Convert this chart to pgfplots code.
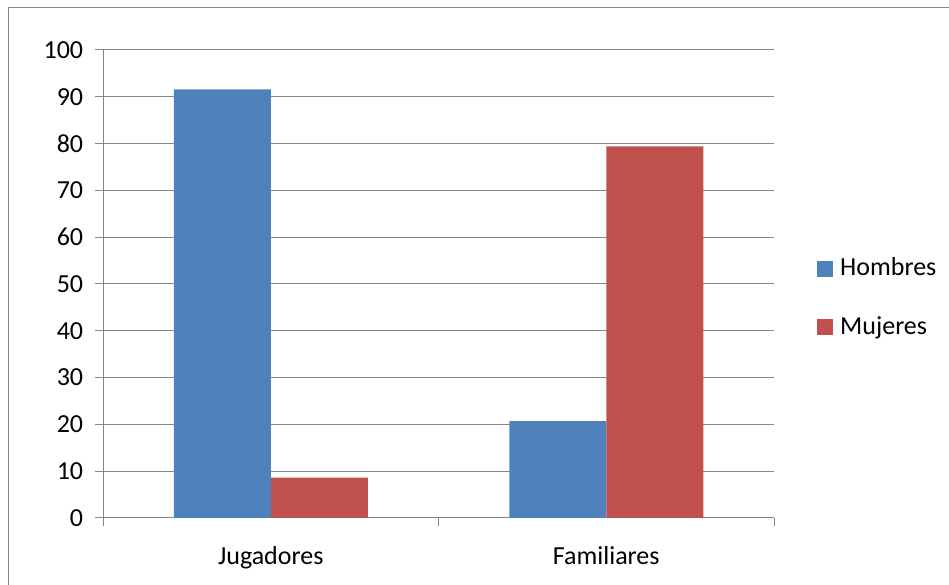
\documentclass[border=0pt]{standalone}
\usepackage{pgfplots}
\pgfplotsset{compat=1.18}
\usepackage{fontspec}
\setmainfont{Carlito}
\definecolor{cblue}{HTML}{4F81BD}
\definecolor{cred}{HTML}{C0504D}
\definecolor{cgrid}{HTML}{868686}
\begin{document}
\fontsize{26}{31}\selectfont
\begin{tikzpicture}
\useasboundingbox (0,0) rectangle (949pt,585pt);
\draw[cgrid, line width=1pt] (8pt,0pt) -- (8pt,577pt) -- (949pt,577pt);
\begin{axis}[
  at={(103pt,67pt)}, anchor=south west,
  scale only axis, width=671pt, height=468pt,
  ybar=0pt, bar width=97pt,
  xmin=-0.5, xmax=1.5, ymin=0, ymax=100,
  ytick={0,10,...,100},
  xtick={0,1}, xticklabels={Jugadores,Familiares},
  minor xtick={-0.5,0.5,1.5},
  major x tick style={draw=none},
  tick align=outside,
  major tick length=8pt, minor tick length=8pt,
  tick style={cgrid, line width=1pt},
  axis lines*=left,
  axis line style={cgrid, line width=1pt},
  ymajorgrids, grid style={cgrid, line width=1pt},
  /pgf/number format/assume math mode=true,
  tick label style={font=\fontsize{26}{31}\selectfont, text=black},
  yticklabel style={xshift=-3pt},
  xticklabel style={yshift=-12pt},
  legend style={draw=none, fill=none, at={(axis description cs:1,0.5)}, anchor=west, xshift=43pt, yshift=-14pt,
    font=\fontsize{26}{31}\selectfont, row sep=37pt, inner sep=0pt,
    nodes={inner sep=0pt},
    /tikz/every odd column/.append style={column sep=7pt}},
  legend cell align=left,
  legend image code/.code={\fill[#1,draw=none] (0pt,-8pt) rectangle (16pt,8pt);},
]
\addplot[fill=cblue, draw=none] coordinates {(0,91.6) (1,20.7)};
\addplot[fill=cred, draw=none] coordinates {(0,8.6) (1,79.4)};
\legend{Hombres,Mujeres}
\end{axis}
\end{tikzpicture}
\end{document}
